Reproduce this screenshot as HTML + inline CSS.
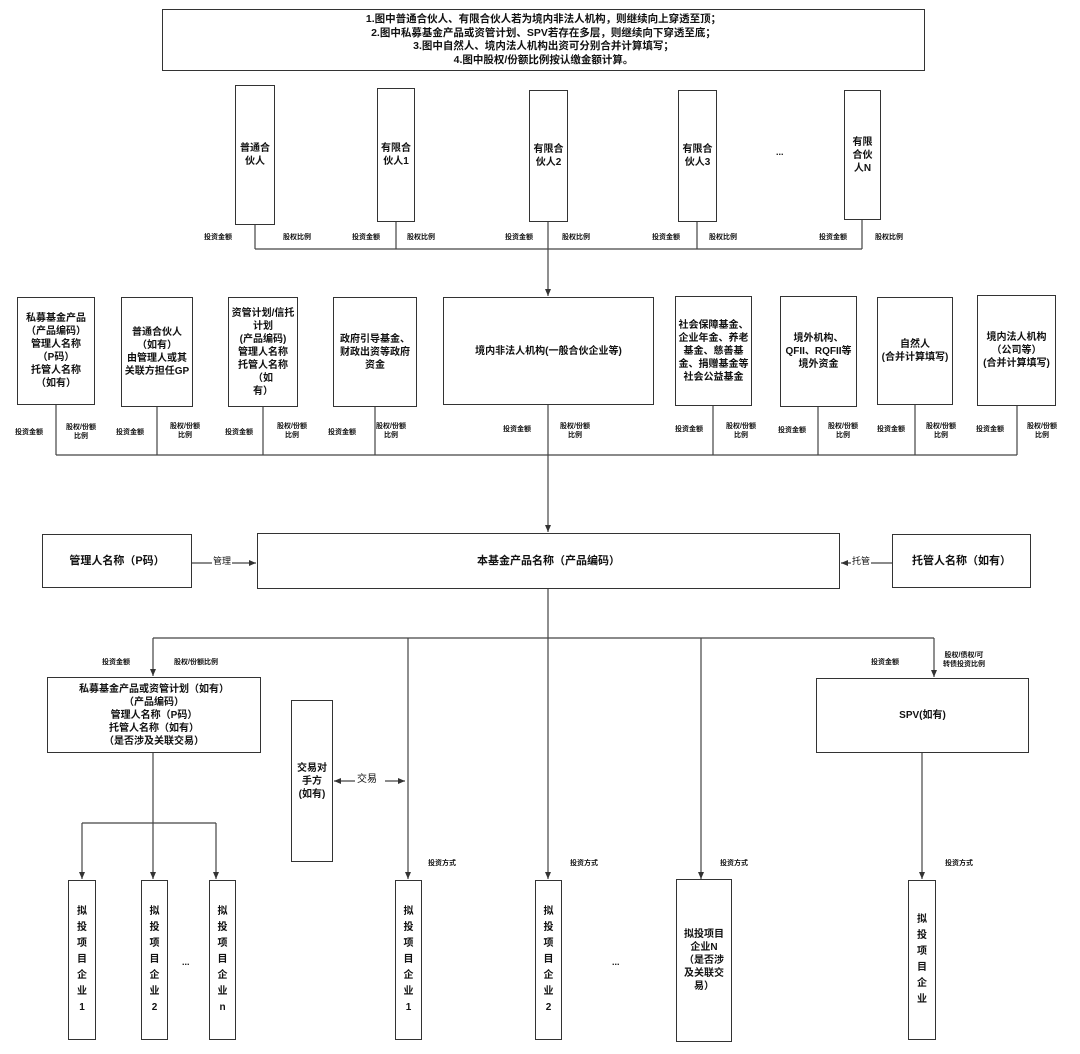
<!DOCTYPE html>
<html><head><meta charset="utf-8"><style>
body{margin:0;background:#fff;}
#c{position:relative;width:1080px;height:1054px;overflow:hidden;font-family:"Liberation Sans","Noto Sans CJK SC",sans-serif;color:#111;}
.b{position:absolute;border:1.3px solid #333;box-sizing:border-box;display:flex;align-items:center;justify-content:center;text-align:center;font-weight:bold;font-size:10px;line-height:13px;background:#fff;}
.l{position:absolute;font-size:7px;font-weight:bold;line-height:9px;text-align:center;white-space:nowrap;}
svg{position:absolute;left:0;top:0;}
.v{line-height:16px;font-size:10px;}
</style></head><body><div id="c">
<svg width="1080" height="1054">
<defs><marker id="a" markerWidth="8" markerHeight="8" refX="7" refY="4" orient="auto" markerUnits="userSpaceOnUse"><path d="M0,1 L7,4 L0,7z" fill="#333"/></marker></defs>
<g stroke="#444" stroke-width="1.2" fill="none">
<!-- top partners -->
<path d="M255,225V249M396,222V249M548,222V249M697,222V249M862,220V249M255,249H862"/>
<path d="M548,249V296" marker-end="url(#a)"/>
<!-- row 2 -->
<path d="M56,405V455M157,407V455M263,407V455M375,407V455M548,405V455M713,406V455M818,407V455M915,405V455M1017,406V455M56,455H1017"/>
<path d="M548,455V532" marker-end="url(#a)"/>
<path d="M192,563H256" marker-end="url(#a)"/>
<path d="M892,563H841" marker-end="url(#a)"/>
<!-- below -->
<path d="M548,589V638M153,638H934"/>
<path d="M153,638V676" marker-end="url(#a)"/>
<path d="M934,638V677" marker-end="url(#a)"/>
<path d="M408,638V879" marker-end="url(#a)"/>
<path d="M548,638V879" marker-end="url(#a)"/>
<path d="M701,638V879" marker-end="url(#a)"/>
<path d="M153,753V823M82,823H216"/>
<path d="M82,823V879" marker-end="url(#a)"/>
<path d="M153,823V879" marker-end="url(#a)"/>
<path d="M216,823V879" marker-end="url(#a)"/>
<path d="M922,753V879" marker-end="url(#a)"/>
<path d="M355,781H334" marker-end="url(#a)"/>
<path d="M385,781H405" marker-end="url(#a)"/>
</g>
</svg>
<div class="b" style="left:162px;top:9px;width:763px;height:62px;font-size:10.5px;line-height:13.5px;">1.图中普通合伙人、有限合伙人若为境内非法人机构，则继续向上穿透至顶；<br>2.图中私募基金产品或资管计划、SPV若存在多层，则继续向下穿透至底；<br>3.图中自然人、境内法人机构出资可分别合并计算填写；<br>4.图中股权/份额比例按认缴金额计算。</div>

<div class="b" style="left:235px;top:85px;width:40px;height:140px;">普通合<br>伙人</div>
<div class="b" style="left:377px;top:88px;width:38px;height:134px;">有限合<br>伙人1</div>
<div class="b" style="left:529px;top:90px;width:39px;height:132px;">有限合<br>伙人2</div>
<div class="b" style="left:678px;top:90px;width:39px;height:132px;">有限合<br>伙人3</div>
<div class="l" style="left:776px;top:148px;font-size:9px;">...</div>
<div class="b" style="left:844px;top:90px;width:37px;height:130px;">有限<br>合伙<br>人N</div>
<div class="l" style="left:204px;top:233px;">投资金额</div><div class="l" style="left:283px;top:233px;">股权比例</div>
<div class="l" style="left:352px;top:233px;">投资金额</div><div class="l" style="left:407px;top:233px;">股权比例</div>
<div class="l" style="left:505px;top:233px;">投资金额</div><div class="l" style="left:562px;top:233px;">股权比例</div>
<div class="l" style="left:652px;top:233px;">投资金额</div><div class="l" style="left:709px;top:233px;">股权比例</div>
<div class="l" style="left:819px;top:233px;">投资金额</div><div class="l" style="left:875px;top:233px;">股权比例</div>

<div class="b" style="left:17px;top:297px;width:78px;height:108px;">私募基金产品<br>（产品编码）<br>管理人名称<br>（P码）<br>托管人名称<br>（如有）</div>
<div class="b" style="left:121px;top:297px;width:72px;height:110px;">普通合伙人<br>（如有）<br>由管理人或其<br>关联方担任GP</div>
<div class="b" style="left:228px;top:297px;width:70px;height:110px;">资管计划/信托<br>计划<br>(产品编码)<br>管理人名称<br>托管人名称（如<br>有）</div>
<div class="b" style="left:333px;top:297px;width:84px;height:110px;">政府引导基金、<br>财政出资等政府<br>资金</div>
<div class="b" style="left:443px;top:297px;width:211px;height:108px;">境内非法人机构(一般合伙企业等)</div>
<div class="b" style="left:675px;top:296px;width:77px;height:110px;">社会保障基金、<br>企业年金、养老<br>基金、慈善基<br>金、捐赠基金等<br>社会公益基金</div>
<div class="b" style="left:780px;top:296px;width:77px;height:111px;">境外机构、<br>QFII、RQFII等<br>境外资金</div>
<div class="b" style="left:877px;top:297px;width:76px;height:108px;">自然人<br>(合并计算填写)</div>
<div class="b" style="left:977px;top:295px;width:79px;height:111px;">境内法人机构<br>（公司等）<br>(合并计算填写)</div>

<div class="l" style="left:15px;top:428px;">投资金额</div><div class="l" style="left:66px;top:423px;">股权/份额<br>比例</div>
<div class="l" style="left:116px;top:428px;">投资金额</div><div class="l" style="left:170px;top:422px;">股权/份额<br>比例</div>
<div class="l" style="left:225px;top:428px;">投资金额</div><div class="l" style="left:277px;top:422px;">股权/份额<br>比例</div>
<div class="l" style="left:328px;top:428px;">投资金额</div><div class="l" style="left:376px;top:422px;">股权/份额<br>比例</div>
<div class="l" style="left:503px;top:425px;">投资金额</div><div class="l" style="left:560px;top:422px;">股权/份额<br>比例</div>
<div class="l" style="left:675px;top:425px;">投资金额</div><div class="l" style="left:726px;top:422px;">股权/份额<br>比例</div>
<div class="l" style="left:778px;top:426px;">投资金额</div><div class="l" style="left:828px;top:422px;">股权/份额<br>比例</div>
<div class="l" style="left:877px;top:425px;">投资金额</div><div class="l" style="left:926px;top:422px;">股权/份额<br>比例</div>
<div class="l" style="left:976px;top:425px;">投资金额</div><div class="l" style="left:1027px;top:422px;">股权/份额<br>比例</div>

<div class="b" style="left:42px;top:534px;width:150px;height:54px;font-size:11px;">管理人名称（P码）</div>
<div class="l" style="left:212px;top:557px;font-size:9px;font-weight:normal;background:#fff;padding:0 1px;">管理</div>
<div class="b" style="left:257px;top:533px;width:583px;height:56px;font-size:11px;">本基金产品名称（产品编码）</div>
<div class="l" style="left:851px;top:557px;font-size:9px;font-weight:normal;background:#fff;padding:0 1px;">托管</div>
<div class="b" style="left:892px;top:534px;width:139px;height:54px;font-size:11px;">托管人名称（如有）</div>

<div class="l" style="left:102px;top:658px;">投资金额</div><div class="l" style="left:174px;top:658px;">股权/份额比例</div>
<div class="b" style="left:47px;top:677px;width:214px;height:76px;">私募基金产品或资管计划（如有）<br>（产品编码）<br>管理人名称（P码）<br>托管人名称（如有）<br>（是否涉及关联交易）</div>
<div class="b" style="left:291px;top:700px;width:42px;height:162px;">交易对<br>手方<br>(如有)</div>
<div class="l" style="left:357px;top:775px;font-size:10px;font-weight:normal;">交易</div>
<div class="l" style="left:871px;top:658px;">投资金额</div><div class="l" style="left:943px;top:651px;">股权/债权/可<br>转债投资比例</div>
<div class="b" style="left:816px;top:678px;width:213px;height:75px;">SPV(如有)</div>

<div class="l" style="left:428px;top:859px;">投资方式</div>
<div class="l" style="left:570px;top:859px;">投资方式</div>
<div class="l" style="left:720px;top:859px;">投资方式</div>
<div class="l" style="left:945px;top:859px;">投资方式</div>

<div class="b v" style="left:68px;top:880px;width:28px;height:160px;">拟<br>投<br>项<br>目<br>企<br>业<br>1</div>
<div class="b v" style="left:141px;top:880px;width:27px;height:160px;">拟<br>投<br>项<br>目<br>企<br>业<br>2</div>
<div class="l" style="left:182px;top:958px;font-size:9px;">...</div>
<div class="b v" style="left:209px;top:880px;width:27px;height:160px;">拟<br>投<br>项<br>目<br>企<br>业<br>n</div>
<div class="b v" style="left:395px;top:880px;width:27px;height:160px;">拟<br>投<br>项<br>目<br>企<br>业<br>1</div>
<div class="b v" style="left:535px;top:880px;width:27px;height:160px;">拟<br>投<br>项<br>目<br>企<br>业<br>2</div>
<div class="l" style="left:612px;top:958px;font-size:9px;">...</div>
<div class="b" style="left:676px;top:879px;width:56px;height:163px;">拟投项目<br>企业N<br>（是否涉<br>及关联交<br>易）</div>
<div class="b v" style="left:908px;top:880px;width:28px;height:160px;">拟<br>投<br>项<br>目<br>企<br>业</div>
</div></body></html>
